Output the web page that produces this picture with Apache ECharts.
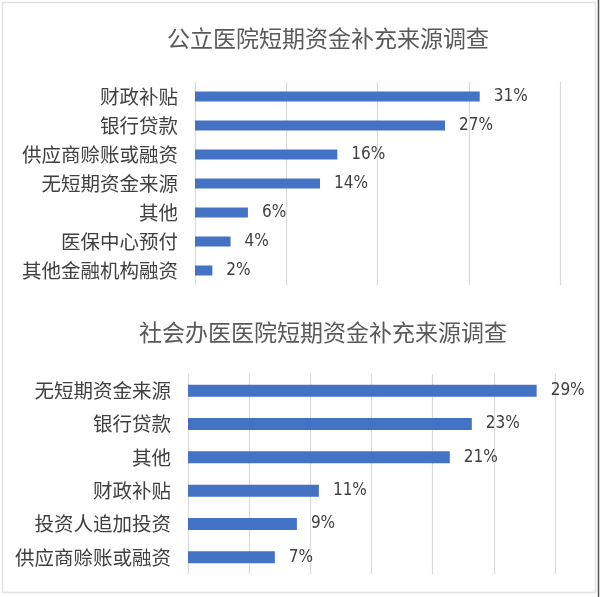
<!DOCTYPE html>
<html>
<head>
<meta charset="utf-8">
<script src="https://cdn.jsdelivr.net/npm/echarts@6/dist/echarts.min.js"></script>
<style>
html,body{margin:0;padding:0;background:#fff;}
#c{width:600px;height:597px;}
</style>
</head>
<body>
<div id="c"></div>
<script>
// Top chart: 公立医院
const titleTop = '公立医院短期资金补充来源调查';
const catsTop = ['财政补贴', '银行贷款', '供应商赊账或融资', '无短期资金来源', '其他', '医保中心预付', '其他金融机构融资'];
const valsTop = [31.2, 27.4, 15.6, 13.7, 5.8, 3.9, 1.9];
const ticksTop = [0, 10, 20, 30, 40];

// Bottom chart: 社会办医医院
const titleBottom = '社会办医医院短期资金补充来源调查';
const catsBottom = ['无短期资金来源', '银行贷款', '其他', '财政补贴', '投资人追加投资', '供应商赊账或融资'];
const valsBottom = [28.5, 23.2, 21.4, 10.7, 8.9, 7.1];
const ticksBottom = [0, 5, 10, 15, 20, 25, 30];

const CJK = '"Noto Sans CJK SC", "Noto Sans", sans-serif';
const NUM = '"Liberation Sans Narrow", "DejaVu Sans Condensed", "Noto Sans", sans-serif';
const BLUE = '#4472C4';
const TXT = '#404040';

const chart = echarts.init(document.getElementById('c'));

function xAxisFor(gridIndex, ticks) {
  return {
    type: 'value', gridIndex,
    min: ticks[0], max: ticks[ticks.length - 1],
    interval: ticks[1] - ticks[0],
    axisLabel: { show: false },
    axisLine: { show: false },
    axisTick: { show: false },
    splitLine: { show: true, lineStyle: { color: '#d9d9d9', width: 1.2 } }
  };
}
function yAxisFor(gridIndex, cats) {
  return {
    type: 'category', gridIndex, data: cats, inverse: true,
    axisLine: { show: false },
    axisTick: { show: false },
    axisLabel: { color: TXT, fontSize: 19.5, fontFamily: CJK, margin: 17 }
  };
}
function seriesFor(idx, vals, bw) {
  return {
    type: 'bar', xAxisIndex: idx, yAxisIndex: idx, data: vals,
    barWidth: bw,
    itemStyle: { color: BLUE },
    label: {
      show: true, position: 'right', distance: 14,
      color: TXT, fontSize: 17, fontFamily: NUM,
      formatter: p => Math.round(p.value) + '%'
    },
    silent: true, animation: false
  };
}

chart.setOption({
  backgroundColor: '#ffffff',
  animation: false,
  title: [
    { text: titleTop, left: 323, top: 22, textAlign: 'center',
      textStyle: { color: '#595959', fontSize: 23, fontWeight: 'normal', fontFamily: CJK } },
    { text: titleBottom, left: 318, top: 316, textAlign: 'center',
      textStyle: { color: '#595959', fontSize: 23, fontWeight: 'normal', fontFamily: CJK } }
  ],
  grid: [
    { left: 195, right: 40, top: 82, height: 203 },
    { left: 188, right: 45, top: 374, height: 200 }
  ],
  xAxis: [xAxisFor(0, ticksTop), xAxisFor(1, ticksBottom)],
  yAxis: [yAxisFor(0, catsTop), yAxisFor(1, catsBottom)],
  series: [seriesFor(0, valsTop, 10), seriesFor(1, valsBottom, 12)],
  graphic: [
    { type: 'rect', shape: { x: 2.5, y: 2.5, width: 593, height: 590 },
      style: { fill: 'none', stroke: '#e3e3e3', lineWidth: 1.5 }, silent: true },
    { type: 'line', shape: { x1: 598.5, y1: 0, x2: 598.5, y2: 597 },
      style: { stroke: '#555', lineWidth: 1.5 }, silent: true }
  ]
});
</script>
</body>
</html>
